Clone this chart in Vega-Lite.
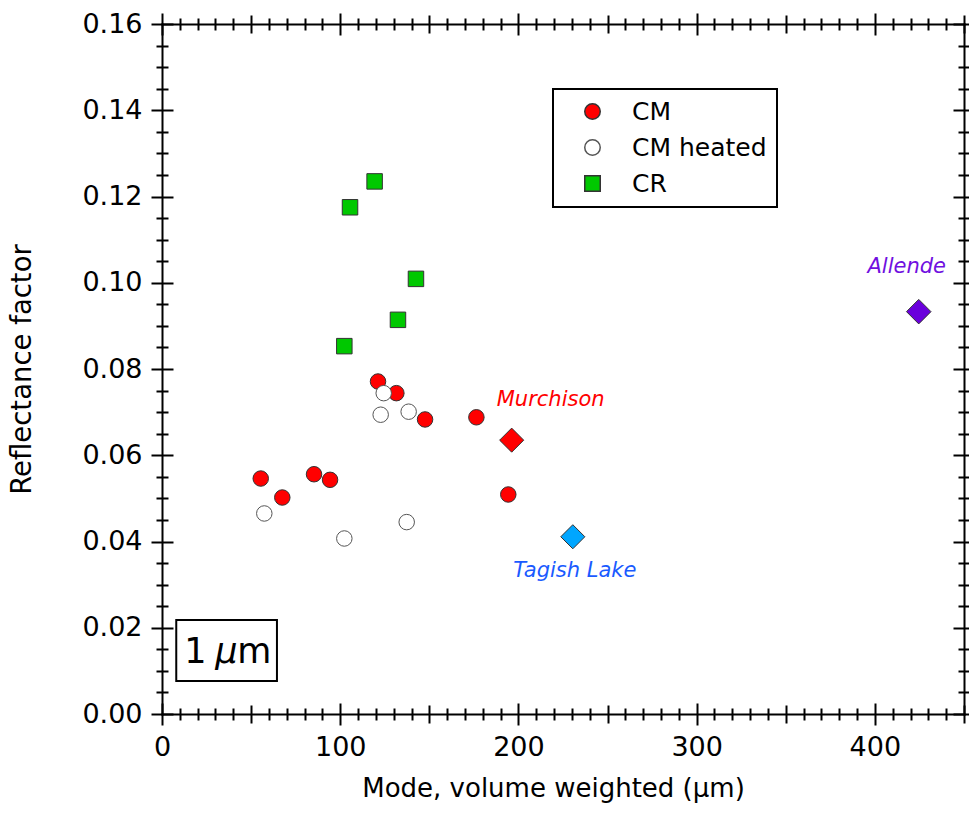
{
  "$schema": "https://vega.github.io/schema/vega-lite/v6.json",
  "width": 802,
  "height": 690,
  "autosize": {"type": "none"},
  "padding": {"left": 162, "top": 24, "right": 5, "bottom": 103},
  "background": "white",
  "config": {
    "font": "DejaVu Sans",
    "view": {"stroke": null},
    "axis": {
      "grid": false,
      "domainColor": "black",
      "domainWidth": 2,
      "domainCap": "square",
      "tickColor": "black",
      "tickWidth": 2,
      "labelColor": "black",
      "titleColor": "black",
      "labelFontSize": 27,
      "titleFontSize": 26,
      "titleFontWeight": "normal",
      "labelOverlap": false,
      "labelFlush": false,
      "labelBound": false
    },
    "legend": {
      "orient": "none",
      "legendX": 391,
      "legendY": 65,
      "labelFontSize": 25,
      "labelColor": "black",
      "padding": 10,
      "rowPadding": 10,
      "symbolOffset": 17,
      "labelOffset": 27,
      "strokeColor": "black",
      "strokeWidth": 2,
      "fillColor": "white"
    }
  },
  "data": {
    "values": [
      {"type": "CM", "mode": 121.2, "refl": 0.0771},
      {"type": "CM", "mode": 131.5, "refl": 0.0744},
      {"type": "CM", "mode": 147.6, "refl": 0.0683},
      {"type": "CM", "mode": 176.4, "refl": 0.0688},
      {"type": "CM", "mode": 55.4, "refl": 0.0546},
      {"type": "CM", "mode": 67.5, "refl": 0.0502},
      {"type": "CM", "mode": 85.3, "refl": 0.0556},
      {"type": "CM", "mode": 94.3, "refl": 0.0543},
      {"type": "CM", "mode": 194.3, "refl": 0.0509},
      {"type": "CM heated", "mode": 124.4, "refl": 0.0744},
      {"type": "CM heated", "mode": 122.7, "refl": 0.0694},
      {"type": "CM heated", "mode": 138.4, "refl": 0.0701},
      {"type": "CM heated", "mode": 57.4, "refl": 0.0465},
      {"type": "CM heated", "mode": 137.3, "refl": 0.0445},
      {"type": "CM heated", "mode": 102.3, "refl": 0.0407},
      {"type": "CR", "mode": 102.3, "refl": 0.0853},
      {"type": "CR", "mode": 119.3, "refl": 0.1235},
      {"type": "CR", "mode": 105.5, "refl": 0.1175},
      {"type": "CR", "mode": 142.5, "refl": 0.1009},
      {"type": "CR", "mode": 132.4, "refl": 0.0914},
      {"type": "Murchison", "mode": 196.2, "refl": 0.0635},
      {"type": "Tagish Lake", "mode": 230.5, "refl": 0.0411},
      {"type": "Allende", "mode": 424.6, "refl": 0.0933}
    ]
  },
  "layer": [
    {
      "data": {"values": [{"label": "1 µm"}]},
      "mark": {"type": "rect", "fill": "white", "stroke": "black", "strokeWidth": 2},
      "encoding": {
        "x": {"datum": 8, "type": "quantitative", "scale": {"domain": [0, 450], "nice": false, "zero": false}, "axis": null},
        "x2": {"datum": 64.5},
        "y": {"datum": 0.0218, "type": "quantitative", "scale": {"domain": [0, 0.16], "nice": false, "zero": false}, "axis": null},
        "y2": {"datum": 0.00765}
      }
    },
    {
      "transform": [{"filter": "datum.type === 'CM' || datum.type === 'CM heated' || datum.type === 'CR'"}],
      "mark": {"type": "point", "filled": true, "strokeWidth": 1, "opacity": 1},
      "encoding": {
        "x": {
          "field": "mode", "type": "quantitative",
          "scale": {"domain": [0, 450], "nice": false, "zero": false},
          "axis": {
            "orient": "bottom",
            "values": [0,10,20,30,40,50,60,70,80,90,100,110,120,130,140,150,160,170,180,190,200,210,220,230,240,250,260,270,280,290,300,310,320,330,340,350,360,370,380,390,400,410,420,430,440,450],
            "tickSize": {"expr": "datum.value % 100 === 0 ? 11 : (datum.value % 50 === 0 ? 9 : 6)"},
            "labelExpr": "datum.value % 100 === 0 ? datum.label : ''",
            "labelPadding": 9,
            "title": "Mode, volume weighted (µm)",
            "titleX": 391,
            "titlePadding": 15
          }
        },
        "y": {
          "field": "refl", "type": "quantitative",
          "scale": {"domain": [0, 0.16], "nice": false, "zero": false},
          "axis": {
            "orient": "left",
            "values": [0,0.005,0.01,0.015,0.02,0.025,0.03,0.035,0.04,0.045,0.05,0.055,0.06,0.065,0.07,0.075,0.08,0.085,0.09,0.095,0.1,0.105,0.11,0.115,0.12,0.125,0.13,0.135,0.14,0.145,0.15,0.155,0.16],
            "tickSize": {"expr": "round(datum.value * 1000) % 20 === 0 ? 11 : 6"},
            "labelExpr": "round(datum.value * 1000) % 20 === 0 ? format(datum.value, '.2f') : ''",
            "labelPadding": 9,
            "title": "Reflectance factor",
            "titleFontSize": 27.5,
            "titlePadding": 45
          }
        },
        "fill": {"field": "type", "type": "nominal", "scale": {"domain": ["CM", "CM heated", "CR"], "range": ["#ff0000", "#ffffff", "#00c800"]}, "legend": {"title": null}},
        "stroke": {"field": "type", "type": "nominal", "scale": {"domain": ["CM", "CM heated", "CR"], "range": ["#333333", "#555555", "#333333"]}, "legend": {"title": null}},
        "shape": {"field": "type", "type": "nominal", "scale": {"domain": ["CM", "CM heated", "CR"], "range": ["circle", "circle", "square"]}, "legend": {"title": null}},
        "size": {"field": "type", "type": "nominal", "scale": {"domain": ["CM", "CM heated", "CR"], "range": [240, 240, 330]}, "legend": {"title": null}}
      }
    },
    {
      "transform": [{"filter": "datum.type === 'Murchison'"}],
      "mark": {"type": "point", "shape": "diamond", "filled": true, "fill": "#ff0000", "stroke": "#333333", "strokeWidth": 1, "size": 580, "opacity": 1},
      "encoding": {
        "x": {
          "field": "mode", "type": "quantitative",
          "scale": {"domain": [0, 450], "nice": false, "zero": false},
          "axis": {
            "orient": "bottom",
            "values": [0,10,20,30,40,50,60,70,80,90,100,110,120,130,140,150,160,170,180,190,200,210,220,230,240,250,260,270,280,290,300,310,320,330,340,350,360,370,380,390,400,410,420,430,440,450],
            "tickSize": {"expr": "datum.value % 100 === 0 ? -11 : (datum.value % 50 === 0 ? -9 : -6)"},
            "labels": false, "domain": false, "title": null
          }
        },
        "y": {
          "field": "refl", "type": "quantitative",
          "scale": {"domain": [0, 0.16], "nice": false, "zero": false},
          "axis": {
            "orient": "left",
            "values": [0,0.005,0.01,0.015,0.02,0.025,0.03,0.035,0.04,0.045,0.05,0.055,0.06,0.065,0.07,0.075,0.08,0.085,0.09,0.095,0.1,0.105,0.11,0.115,0.12,0.125,0.13,0.135,0.14,0.145,0.15,0.155,0.16],
            "tickSize": {"expr": "round(datum.value * 1000) % 20 === 0 ? -11 : -6"},
            "labels": false, "domain": false, "title": null
          }
        }
      }
    },
    {
      "transform": [{"filter": "datum.type === 'Tagish Lake'"}],
      "mark": {"type": "point", "shape": "diamond", "filled": true, "fill": "#00a6ff", "stroke": "#333333", "strokeWidth": 1, "size": 580, "opacity": 1},
      "encoding": {
        "x": {
          "field": "mode", "type": "quantitative",
          "scale": {"domain": [0, 450], "nice": false, "zero": false},
          "axis": {
            "orient": "top",
            "values": [0,10,20,30,40,50,60,70,80,90,100,110,120,130,140,150,160,170,180,190,200,210,220,230,240,250,260,270,280,290,300,310,320,330,340,350,360,370,380,390,400,410,420,430,440,450],
            "tickSize": {"expr": "datum.value % 100 === 0 ? 11 : (datum.value % 50 === 0 ? 9 : 6)"},
            "labels": false, "title": null
          }
        },
        "y": {
          "field": "refl", "type": "quantitative",
          "scale": {"domain": [0, 0.16], "nice": false, "zero": false},
          "axis": {
            "orient": "right",
            "values": [0,0.005,0.01,0.015,0.02,0.025,0.03,0.035,0.04,0.045,0.05,0.055,0.06,0.065,0.07,0.075,0.08,0.085,0.09,0.095,0.1,0.105,0.11,0.115,0.12,0.125,0.13,0.135,0.14,0.145,0.15,0.155,0.16],
            "tickSize": {"expr": "round(datum.value * 1000) % 20 === 0 ? 11 : 6"},
            "labels": false, "title": null
          }
        }
      }
    },
    {
      "transform": [{"filter": "datum.type === 'Allende'"}],
      "mark": {"type": "point", "shape": "diamond", "filled": true, "fill": "#6a00dc", "stroke": "#333333", "strokeWidth": 1, "size": 600, "opacity": 1},
      "encoding": {
        "x": {
          "field": "mode", "type": "quantitative",
          "scale": {"domain": [0, 450], "nice": false, "zero": false},
          "axis": {
            "orient": "top",
            "values": [0,10,20,30,40,50,60,70,80,90,100,110,120,130,140,150,160,170,180,190,200,210,220,230,240,250,260,270,280,290,300,310,320,330,340,350,360,370,380,390,400,410,420,430,440,450],
            "tickSize": {"expr": "datum.value % 100 === 0 ? -11 : (datum.value % 50 === 0 ? -9 : -6)"},
            "labels": false, "domain": false, "title": null
          }
        },
        "y": {
          "field": "refl", "type": "quantitative",
          "scale": {"domain": [0, 0.16], "nice": false, "zero": false},
          "axis": {
            "orient": "right",
            "values": [0,0.005,0.01,0.015,0.02,0.025,0.03,0.035,0.04,0.045,0.05,0.055,0.06,0.065,0.07,0.075,0.08,0.085,0.09,0.095,0.1,0.105,0.11,0.115,0.12,0.125,0.13,0.135,0.14,0.145,0.15,0.155,0.16],
            "tickSize": {"expr": "round(datum.value * 1000) % 20 === 0 ? -11 : -6"},
            "labels": false, "domain": false, "title": null
          }
        }
      }
    },
    {
      "transform": [{"filter": "datum.type === 'Murchison'"}],
      "mark": {"type": "text", "fontStyle": "italic", "fontSize": 21, "color": "#ff0000", "align": "center", "baseline": "alphabetic", "dx": 39, "dy": -34},
      "encoding": {
        "x": {"field": "mode", "type": "quantitative", "scale": {"domain": [0, 450], "nice": false, "zero": false}, "axis": null},
        "y": {"field": "refl", "type": "quantitative", "scale": {"domain": [0, 0.16], "nice": false, "zero": false}, "axis": null},
        "text": {"field": "type"}
      }
    },
    {
      "transform": [{"filter": "datum.type === 'Tagish Lake'"}],
      "mark": {"type": "text", "fontStyle": "italic", "fontSize": 21, "color": "#1a5aff", "align": "center", "baseline": "alphabetic", "dx": 2, "dy": 40},
      "encoding": {
        "x": {"field": "mode", "type": "quantitative", "scale": {"domain": [0, 450], "nice": false, "zero": false}, "axis": null},
        "y": {"field": "refl", "type": "quantitative", "scale": {"domain": [0, 0.16], "nice": false, "zero": false}, "axis": null},
        "text": {"field": "type"}
      }
    },
    {
      "transform": [{"filter": "datum.type === 'Allende'"}],
      "mark": {"type": "text", "fontStyle": "italic", "fontSize": 21, "color": "#7010e0", "align": "center", "baseline": "alphabetic", "dx": -12, "dy": -39},
      "encoding": {
        "x": {"field": "mode", "type": "quantitative", "scale": {"domain": [0, 450], "nice": false, "zero": false}, "axis": null},
        "y": {"field": "refl", "type": "quantitative", "scale": {"domain": [0, 0.16], "nice": false, "zero": false}, "axis": null},
        "text": {"field": "type"}
      }
    },
    {
      "data": {"values": [{"label": "1"}]},
      "mark": {"type": "text", "fontSize": 35, "color": "black", "align": "left", "baseline": "alphabetic"},
      "encoding": {
        "x": {"datum": 12.5, "type": "quantitative", "scale": {"domain": [0, 450], "nice": false, "zero": false}, "axis": null},
        "y": {"datum": 0.0119, "type": "quantitative", "scale": {"domain": [0, 0.16], "nice": false, "zero": false}, "axis": null},
        "text": {"field": "label"}
      }
    },
    {
      "data": {"values": [{"label": "µ"}]},
      "mark": {"type": "text", "fontSize": 35, "fontStyle": "italic", "color": "black", "align": "left", "baseline": "alphabetic", "dx": 31},
      "encoding": {
        "x": {"datum": 12.5, "type": "quantitative", "scale": {"domain": [0, 450], "nice": false, "zero": false}, "axis": null},
        "y": {"datum": 0.0119, "type": "quantitative", "scale": {"domain": [0, 0.16], "nice": false, "zero": false}, "axis": null},
        "text": {"field": "label"}
      }
    },
    {
      "data": {"values": [{"label": "m"}]},
      "mark": {"type": "text", "fontSize": 35, "color": "black", "align": "left", "baseline": "alphabetic", "dx": 53},
      "encoding": {
        "x": {"datum": 12.5, "type": "quantitative", "scale": {"domain": [0, 450], "nice": false, "zero": false}, "axis": null},
        "y": {"datum": 0.0119, "type": "quantitative", "scale": {"domain": [0, 0.16], "nice": false, "zero": false}, "axis": null},
        "text": {"field": "label"}
      }
    }
  ],
  "resolve": {"axis": {"x": "independent", "y": "independent"}}
}
